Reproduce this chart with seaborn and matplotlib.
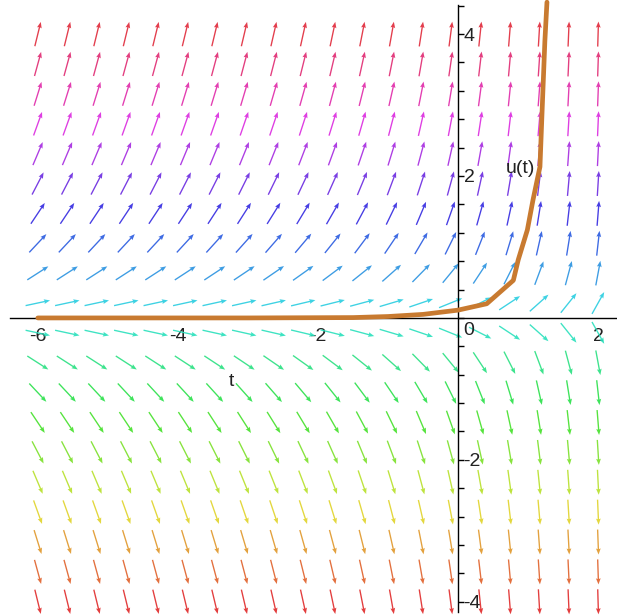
import numpy as np
import pandas as pd
import matplotlib
matplotlib.use("Agg")
import matplotlib.pyplot as plt
from matplotlib.ticker import MultipleLocator, FixedLocator
import seaborn as sns

# direction field grid: 20 x 20 arrows over t in [-6, 2], u in [-4, 4]
t_grid = np.linspace(-6, 2, 20)
u_grid = np.linspace(-4, 4, 20)

# solution curve u(t)
sol_t = [-6.0, -3.0, -1.5, -1.0, -0.5, 0.0, 0.41, 0.79, 0.86, 0.99, 1.07, 1.17, 1.2, 1.24, 1.27]
sol_u = [0.0, 0.0, 0.005, 0.02, 0.05, 0.11, 0.2, 0.53, 0.82, 1.24, 1.66, 2.13, 2.9, 3.9, 4.45]

# slope field: du/dt = u * (1 + e^t)
def slope(t, u):
    return u * (1 + np.exp(t))

sns.set_theme(style="white")
plt.rcParams['font.family'] = ['Liberation Sans', 'DejaVu Sans']

xlim = (-6.54, 2.27)
ylim = (-4.2, 4.48)
W, H = 617, 616
fig = plt.figure(figsize=(W / 100, H / 100), dpi=100)
ax = fig.add_axes([0, 0, 1, 1])
ax.set_xlim(*xlim)
ax.set_ylim(*ylim)

sx = W / (xlim[1] - xlim[0])
sy = H / (ylim[1] - ylim[0])

T, U = np.meshgrid(t_grid, u_grid)
F = slope(T, U)
L = 25.0
n = np.sqrt(sx ** 2 + (sy * F) ** 2)
dU = L / n
dV = L * F / n

# colour by height: hsv hue from bottom row (red) to top row (red)
cmap = plt.get_cmap('hsv')
frac = (U - u_grid[0]) / (u_grid[-1] - u_grid[0])
cols = cmap(frac.ravel())
cols[:, :3] = cols[:, :3] * 0.72 + 0.16
cols[:, 3] = 0.9

ax.quiver(T, U, dU, dV, color=cols, angles='xy', scale_units='xy', scale=1,
          pivot='middle', width=0.0022, headwidth=3.5, headlength=4.5,
          headaxislength=4, zorder=2)

df = pd.DataFrame({'t': sol_t, 'u': sol_u})
sns.lineplot(data=df, x='t', y='u', sort=False, color='#c87a30', lw=3.4,
             ax=ax, zorder=4)
ax.set_xlabel('')
ax.set_ylabel('')

# Maple style axes through the origin
for s in ['top', 'left']:
    ax.spines[s].set_visible(False)
ax.spines['bottom'].set_position(('data', 0))
ax.spines['right'].set_position(('data', 0))
ax.spines['bottom'].set_bounds(-6.4, 2.27)
ax.spines['right'].set_bounds(-4.14, 4.41)
for s in ['bottom', 'right']:
    ax.spines[s].set_color('black')
    ax.spines[s].set_linewidth(1.0)
    ax.spines[s].set_zorder(3)

ax.yaxis.tick_right()
ax.xaxis.set_major_locator(FixedLocator([-6, -4, -2, 0, 2]))
ax.xaxis.set_minor_locator(MultipleLocator(0.4))
ax.yaxis.set_major_locator(FixedLocator([-4, -2, 2, 4]))
ax.yaxis.set_minor_locator(MultipleLocator(0.4))
ax.set_xticklabels(['-6', '-4', '-2', '', '2'])
ax.set_yticklabels(['-4', '-2', '2', '4'])
ax.tick_params(axis='both', which='both', direction='out', length=4, width=1,
               color='black', labelsize=14, labelcolor='#222222')
ax.tick_params(axis='x', pad=3)
ax.tick_params(axis='y', pad=0)

ax.text(0.07, -0.06, '0', fontsize=14, color='#222222', ha='left', va='top')
ax.text(-3.23, -0.9, 't', fontsize=14, color='#222222', ha='center', va='center')
ax.text(0.89, 2.11, 'u(t)', fontsize=14, color='#222222', ha='center', va='center')

fig.savefig('out.png', dpi=100)
